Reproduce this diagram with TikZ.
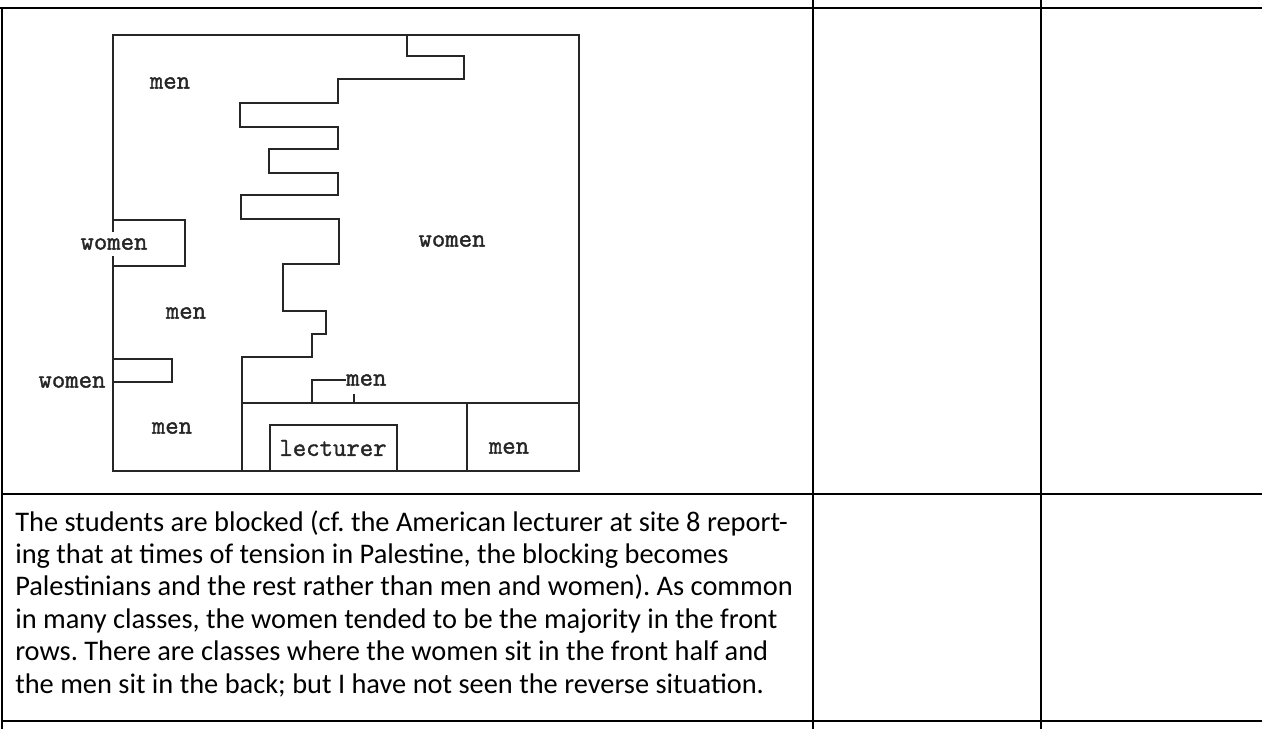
\documentclass[tikz,border=0pt]{standalone}
\usepackage{fontspec}
\setmainfont{Carlito}
\newfontfamily\typewriter[FakeBold=1.5]{Latin Modern Mono}
\begin{document}
\frenchspacing
\begin{tikzpicture}[x=0.75pt,y=-0.75pt,
  grid/.style={line width=1.1pt,black},
  wall/.style={line width=1.2pt,black!85,line join=miter},
  lbl/.style={font=\fontsize{19.5}{22}\typewriter,inner sep=1pt,text=black!85},
  para/.style={font=\fontsize{21.3}{24.3}\selectfont,anchor=base west,inner sep=0pt}]
\useasboundingbox (0,0) rectangle (1262,729);

% table rules
\draw[grid] (0,8) -- (1262,8);
\draw[grid] (2,494) -- (1262,494);
\draw[grid] (2,721) -- (1262,721);
\draw[grid] (2,8) -- (2,729);
\draw[grid] (813,0) -- (813,729);
\draw[grid] (1041,0) -- (1041,729);

% classroom outline, left wall broken by the label that sits on it
\draw[wall] (113,232) -- (113,35) -- (579,35) -- (579,471) -- (113,471) -- (113,256);
% boundary between the men's and women's blocks
\draw[wall] (407,35) -- (407,56) -- (464,56) -- (464,79) -- (338,79) -- (338,103)
  -- (240,103) -- (240,127) -- (338,127) -- (338,149) -- (269,149) -- (269,173)
  -- (338,173) -- (338,195) -- (241,195) -- (241,219) -- (339,219) -- (339,264)
  -- (283,264) -- (283,311) -- (326,311) -- (326,334) -- (312,334) -- (312,357)
  -- (242,357) -- (242,471);
% front row and lecturer area
\draw[wall] (242,403) -- (579,403);
\draw[wall] (467,403) -- (467,471);
\draw[wall] (270,471) -- (270,425) -- (397,425) -- (397,471);
% women's pockets along the left wall
\draw[wall] (113,220) -- (185,220) -- (185,266) -- (113,266);
\draw[wall] (113,359) -- (172,359) -- (172,382) -- (113,382);

% labels
\node[lbl] (m1) at (170,83) {men};
\node[lbl] (w1) at (452,241) {women};
\node[lbl] (w2) at (114,244) {women};
\node[lbl] (m2) at (186,313) {men};
\node[lbl] (w3) at (72,382) {women};
\node[lbl] (m3) at (172,428) {men};
\node[lbl] (lec) at (333,448) {lecturer};
\node[lbl] (m4) at (509,448) {men};
\node[lbl,anchor=west,inner sep=0pt] (m5) at (346,380) {men};
\coordinate (b0) at (312,403);
\coordinate (t0) at (354,403);
\draw[wall] (b0) -- (312,380) -- (m5.west);
\draw[wall] (t0) -- (354,394);

% comment text
\node[para] (l1) at (15,531) {The students are blocked (cf. the American lecturer at site 8 report-};
\node[para] (l2) at (15,563.4) {ing that at times of tension in Palestine, the blocking becomes};
\node[para] (l3) at (15,595.8) {Palestinians and the rest rather than men and women). As common};
\node[para] (l4) at (15,628.2) {in many classes, the women tended to be the majority in the front};
\node[para] (l5) at (15,660.6) {rows. There are classes where the women sit in the front half and};
\node[para] (l6) at (15,693) {the men sit in the back; but I have not seen the reverse situation.};
\end{tikzpicture}
\end{document}
